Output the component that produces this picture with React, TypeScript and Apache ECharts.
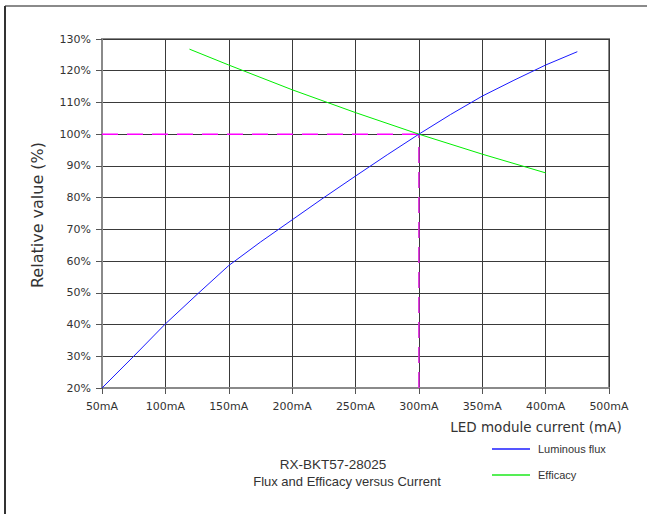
import React, { useEffect, useRef } from "react";
import * as echarts from "echarts";

const xTicks = [50, 100, 150, 200, 250, 300, 350, 400, 450];
const xTickLabels = ["50mA", "100mA", "150mA", "200mA", "250mA", "300mA", "350mA", "400mA", "500mA"];

const fluxCurrent = [50, 75, 100, 125, 150, 175, 200, 225, 250, 275, 300, 325, 350, 375, 400, 425];
const fluxValue = [20, 30, 40.2, 49.5, 58.6, 66, 73, 80, 86.8, 93.5, 100, 106.2, 112, 117, 121.8, 126];

const effCurrent = [119, 150, 200, 250, 300, 350, 400];
const effValue = [126.8, 121.8, 114, 106.8, 100, 93.7, 87.8];

const refCurrent = [50, 300];
const refValue = [20, 100];

const yMin = 20;
const yMax = 130;

export default function App() {
  const ref = useRef<HTMLDivElement>(null);
  useEffect(() => {
    document.body.style.margin = "0";
    const chart = echarts.init(ref.current!, null, { renderer: "svg" });
    const tickFont = "DejaVu Sans";
    chart.setOption({
      animation: false,
      backgroundColor: "#ffffff",
      grid: {
        left: 102,
        top: 39,
        right: 38,
        bottom: 126,
        show: true,
        borderColor: "#8a8a8a",
        borderWidth: 2,
      },
      xAxis: {
        type: "value",
        min: xTicks[0],
        max: xTicks[xTicks.length - 1],
        interval: 50,
        axisLine: { show: true, lineStyle: { color: "#8a8a8a", width: 2 } },
        axisTick: { show: true, length: 6, lineStyle: { color: "#555" } },
        splitLine: { show: true, lineStyle: { color: "#3a3a3a", width: 1 } },
        axisLabel: {
          margin: 13,
          fontFamily: tickFont,
          fontSize: 11,
          color: "#333",
          formatter: (v: number) => xTickLabels[xTicks.indexOf(v)] ?? "",
        },
      },
      yAxis: {
        type: "value",
        min: yMin,
        max: yMax,
        interval: 10,
        axisLine: { show: true, lineStyle: { color: "#8a8a8a", width: 2 } },
        axisTick: { show: true, length: 6, lineStyle: { color: "#555" } },
        splitLine: { show: true, lineStyle: { color: "#3a3a3a", width: 1 } },
        axisLabel: {
          margin: 11,
          fontFamily: tickFont,
          fontSize: 11,
          color: "#333",
          formatter: (v: number) => v + "%",
        },
      },
      legend: {
        orient: "vertical",
        left: 487,
        top: 437,
        itemWidth: 38,
        itemHeight: 2,
        itemGap: 12,
        icon: "rect",
        data: ["Luminous flux", "Efficacy"],
        textStyle: {
          fontFamily: "Liberation Sans",
          fontSize: 11,
          color: "#333",
          padding: [0, 0, 0, 3],
          lineHeight: 14,
        },
      },
      series: [
        {
          name: "ref-h",
          type: "line",
          symbol: "none",
          data: [
            [refCurrent[0], refValue[1]],
            [refCurrent[1], refValue[1]],
          ],
          lineStyle: { color: "#ff00ff", width: 1.5, type: [16, 9] },
          z: 3,
        },
        {
          name: "ref-v",
          type: "line",
          symbol: "none",
          data: [
            [refCurrent[1], refValue[0]],
            [refCurrent[1], refValue[1]],
          ],
          lineStyle: { color: "#dd22dd", width: 1.5, type: [16, 9] },
          z: 3,
        },
        {
          name: "Efficacy",
          type: "line",
          symbol: "none",
          color: "#55ee55",
          data: effCurrent.map((c, i) => [c, effValue[i]]),
          lineStyle: { color: "#00ee00", width: 1 },
          z: 4,
        },
        {
          name: "Luminous flux",
          type: "line",
          symbol: "none",
          color: "#5555ff",
          data: fluxCurrent.map((c, i) => [c, fluxValue[i]]),
          lineStyle: { color: "#1a1aff", width: 1 },
          z: 5,
        },
      ],
      graphic: [
        {
          type: "line",
          shape: { x1: 5, y1: 6, x2: 647, y2: 6 },
          style: { stroke: "#8a8a8a", lineWidth: 2 },
        },
        {
          type: "line",
          shape: { x1: 5, y1: 6, x2: 5, y2: 514 },
          style: { stroke: "#333", lineWidth: 2 },
        },
        {
          type: "text",
          x: 37,
          y: 215,
          rotation: Math.PI / 2,
          style: {
            text: "Relative value (%)",
            fontFamily: "DejaVu Sans",
            fontSize: 16,
            fill: "#333",
            align: "center",
            verticalAlign: "middle",
          },
        },
        {
          type: "text",
          x: 536,
          y: 427,
          style: {
            text: "LED module current (mA)",
            fontFamily: "DejaVu Sans",
            fontSize: 13.5,
            fill: "#333",
            align: "center",
            verticalAlign: "middle",
          },
        },
        {
          type: "text",
          x: 333,
          y: 464,
          style: {
            text: "RX-BKT57-28025",
            fontFamily: "Liberation Sans",
            fontSize: 13.5,
            fill: "#333",
            align: "center",
            verticalAlign: "middle",
          },
        },
        {
          type: "text",
          x: 347,
          y: 481,
          style: {
            text: "Flux and Efficacy versus Current",
            fontFamily: "Liberation Sans",
            fontSize: 13,
            fill: "#333",
            align: "center",
            verticalAlign: "middle",
          },
        },
      ],
    });
    return () => chart.dispose();
  }, []);
  return <div ref={ref} style={{ width: 647, height: 514 }} />;
}
